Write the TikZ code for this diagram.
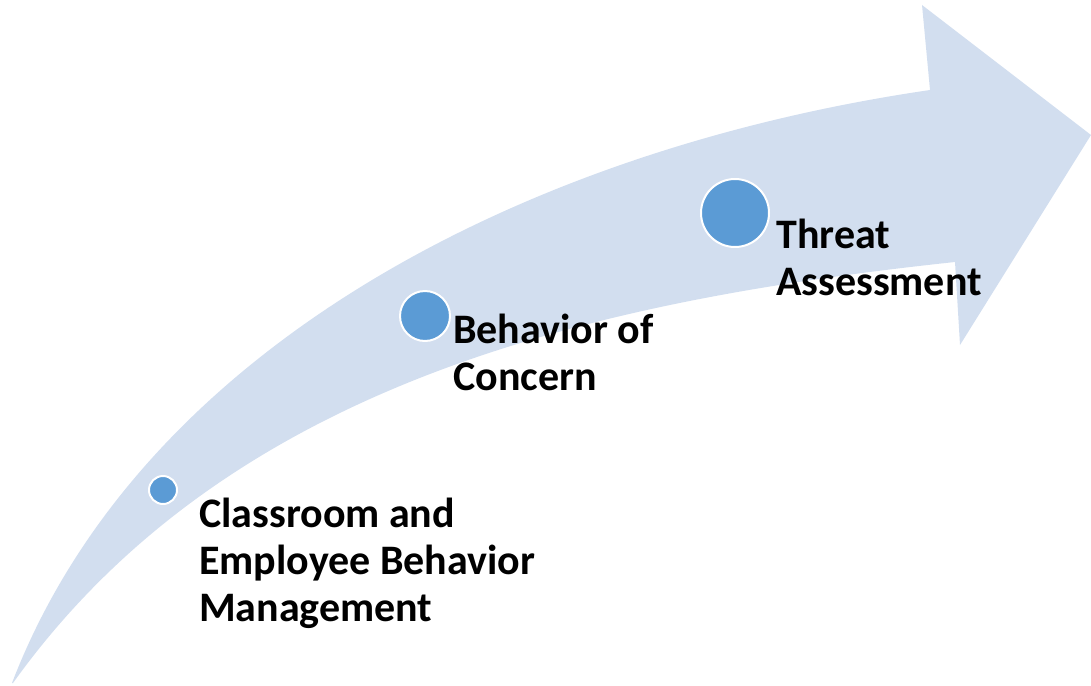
\documentclass[tikz,border=0pt]{standalone}
\usepackage{fontspec}
\setmainfont{Carlito}
\definecolor{bandblue}{RGB}{210, 222, 239}
\definecolor{dotblue}{RGB}{91, 155, 213}
\usepackage{tikz}
\usetikzlibrary{positioning}

\begin{document}
\begin{tikzpicture}[x=1pt, y=-1pt,
  stagedot/.style={circle, fill=dotblue, draw=white, line width=2pt, inner sep=0pt},
  stagetext/.style={anchor=base west, inner sep=0pt, align=left, font=\fontsize{42}{47}\selectfont\bfseries}]
  \useasboundingbox (0,0) rectangle (1091,685);

  % Curved band with arrow head
  \fill[bandblue] (12,683) .. controls (140,350) and (520,150) .. (930,90)
    -- (922,5) -- (1091,135) -- (960,345) -- (955,262)
    .. controls (600,300) and (230,380) .. (13,683) -- cycle;

  % Stages along the band
  \node[stagedot, minimum size=28pt] (dotone) at (163,490) {};
  \node[stagedot, minimum size=50pt] (dottwo) at (425,316) {};
  \node[stagedot, minimum size=68pt] (dotthree) at (735,213) {};

  % base anchor sits on the last line
  \node[stagetext] (stageone) at (199,621) {Classroom and\\Employee Behavior\\Management};
  \node[stagetext] (stagetwo) at (453,390) {Behavior of\\Concern};
  \node[stagetext] (stagethree) at (776,295) {Threat\\Assessment};
\end{tikzpicture}
\end{document}
